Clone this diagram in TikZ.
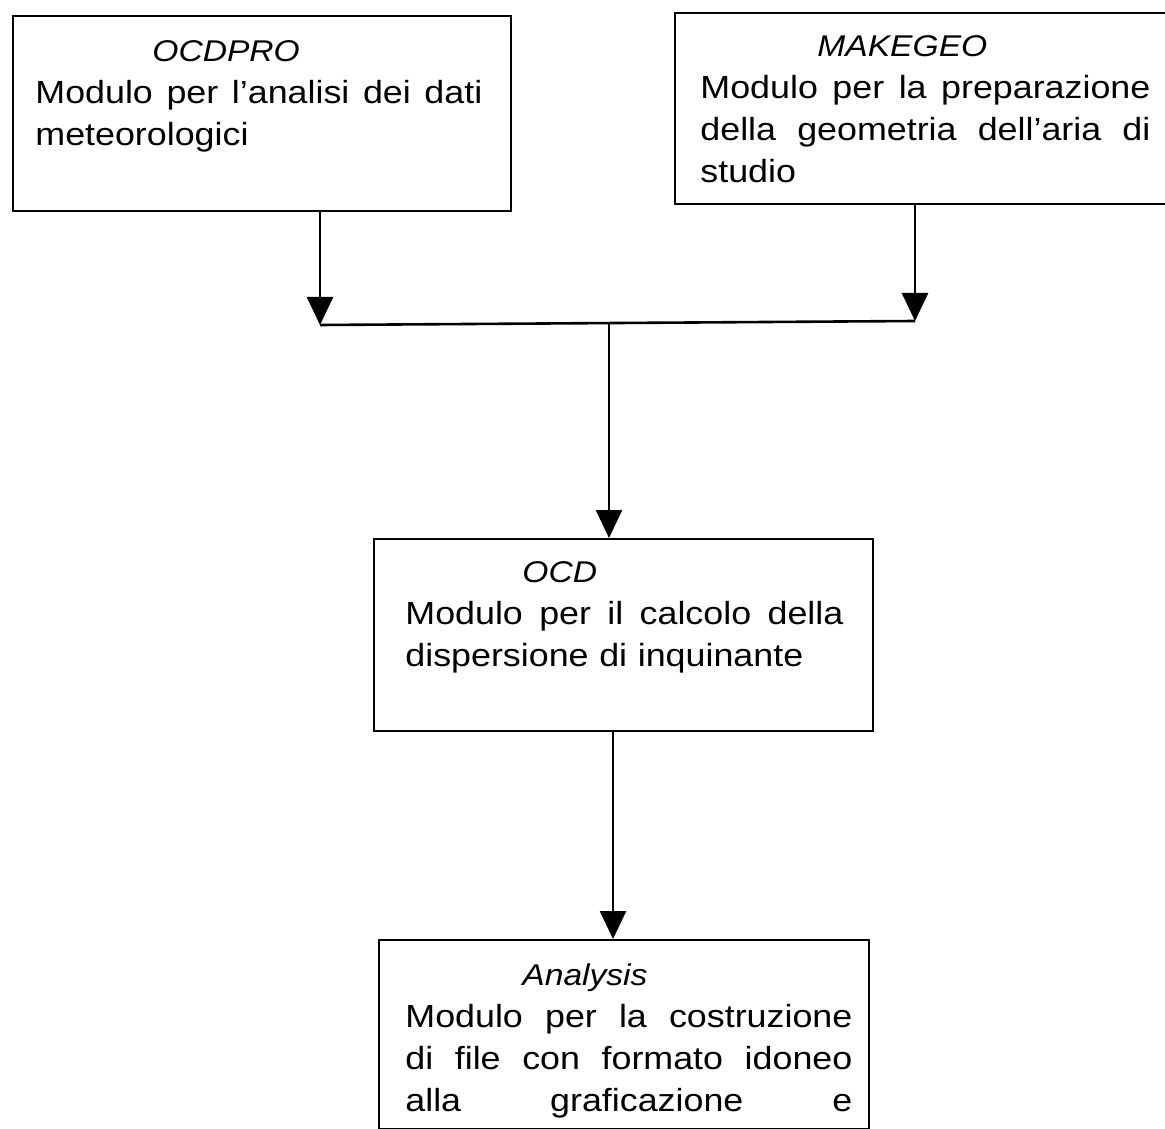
\documentclass[tikz,border=0pt]{standalone}
\usepackage{fontspec}
\setmainfont{Liberation Sans}[FakeStretch=1.12]
\usetikzlibrary{arrows.meta}
\tikzset{
  modbox/.style={draw=black, line width=1.2pt, rectangle, anchor=north west, inner sep=0pt},
  modtext/.style={anchor=base west, inner sep=0pt, align=left, font=\fontsize{16}{21}\selectfont},
  flow/.style={line width=1.3pt},
  flowarrow/.style={line width=1.3pt, -{Triangle[width=13pt,length=14pt]}}
}
\newcommand{\modtitle}[1]{\hspace*{58.5pt}{\fontsize{15}{21}\selectfont\itshape #1}}
\newcommand{\jline}[2]{\leavevmode\hbox to #1{#2}}
\begin{document}
\begin{tikzpicture}[x=0.5pt,y=-0.5pt]
\clip (0,0) rectangle (1165,1128);
\fill[white] (0,0) rectangle (1165,1128);
% boxes
\node[modbox, minimum width=249pt, minimum height=97.5pt] (ocdpro) at (12,15) {};
\node[modbox, minimum width=250.5pt, minimum height=95.5pt] (makegeo) at (674,12) {};
\node[modbox, minimum width=249.5pt, minimum height=96pt] (ocd) at (373,538) {};
\node[modbox, minimum width=245pt, minimum height=94.5pt] (analysis) at (378,939) {};
% texts
\node[modtext, text width=223.5pt] (ocdpro-t) at (35,62) {\modtitle{OCDPRO}\\
\jline{223.5pt}{Modulo\hfill per\hfill l’analisi\hfill dei\hfill dati}\\
meteorologici};
\node[modtext, text width=225pt] (makegeo-t) at (700,57) {\modtitle{MAKEGEO}\\
\jline{225pt}{Modulo\hfill per\hfill la\hfill preparazione}\\
\jline{225pt}{della\hfill geometria\hfill dell’aria\hfill di}\\
studio};
\node[modtext, text width=219pt] (ocd-t) at (405,582) {\modtitle{OCD}\\
\jline{219pt}{Modulo\hfill per\hfill il\hfill calcolo\hfill della}\\
dispersione di inquinante};
\node[modtext, text width=223.5pt] (analysis-t) at (405,985) {\modtitle{Analysis}\\
\jline{223.5pt}{Modulo\hfill per\hfill la\hfill costruzione}\\
\jline{223.5pt}{di\hfill file\hfill con\hfill formato\hfill idoneo}\\
\jline{223.5pt}{alla\hfill graficazione\hfill e}};
% junction points
\coordinate (jl) at (320,325);
\coordinate (jr) at (915,321);
\coordinate (jc) at (609,323);
% connectors
\draw[flowarrow] (ocdpro.south -| jl) -- (jl);
\draw[flowarrow] (makegeo.south -| jr) -- (jr);
\draw[flow] (jl) -- (jr);
\draw[flowarrow] (jc) -- (ocd.north -| jc);
\draw[flowarrow] (ocd.south -| 613,0) -- (analysis.north -| 613,0);
\end{tikzpicture}
\end{document}
